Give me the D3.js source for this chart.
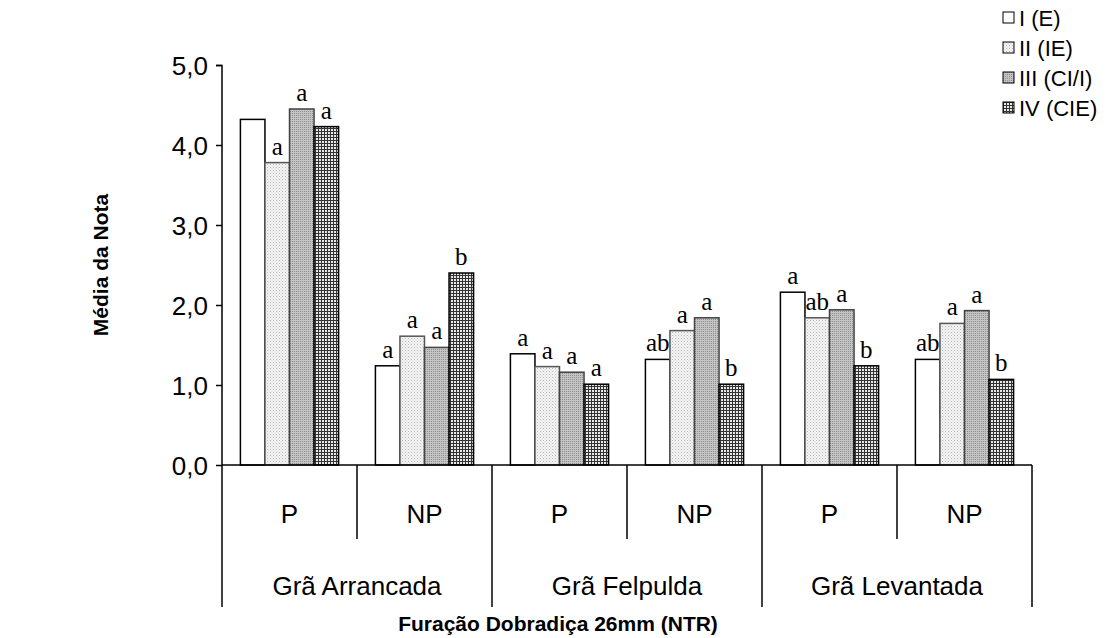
<!DOCTYPE html>
<html>
<head>
<meta charset="utf-8">
<script src="https://cdn.jsdelivr.net/npm/d3@7"></script>
<style>
  body { margin: 0; background: #fff; }
  text { font-family: Arial, "Liberation Sans", sans-serif; }
</style>
</head>
<body>
<div id="chart"></div>
<script>
var margin = { left: 222, right: 84, top: 65, bottom: 173 }
var width = 1116 - margin.left - margin.right
var height = 638 - margin.top - margin.bottom

// data
const groups = ["Grã Arrancada", "Grã Felpulda", "Grã Levantada"];
const subGroups = ["P", "NP"];
const series = ["I (E)", "II (IE)", "III (CI/I)", "IV (CIE)"];
const serieI = [4.32, 1.24, 1.39, 1.32, 2.16, 1.32];
const serieII = [3.78, 1.61, 1.23, 1.68, 1.84, 1.77];
const serieIII = [4.45, 1.47, 1.16, 1.84, 1.94, 1.93];
const serieIV = [4.23, 2.40, 1.01, 1.01, 1.24, 1.07];
const letters = [
    ["", "a", "a", "a"],
    ["a", "a", "a", "b"],
    ["a", "a", "a", "a"],
    ["ab", "a", "a", "b"],
    ["a", "ab", "a", "b"],
    ["ab", "a", "a", "b"]
];
const yTicks = [0, 1, 2, 3, 4, 5];

var allSeries = [serieI, serieII, serieIII, serieIV];
var cats = [];
groups.forEach(g => subGroups.forEach(s => cats.push(g + "|" + s)));
var data = cats.map((c, i) => ({
    category: c,
    values: series.map((s, j) => ({ series: s, value: allSeries[j][i], letter: letters[i][j] }))
}));

var svg = d3.select("#chart")
    .append("svg")
    .attr("width", 1116)
    .attr("height", 638);

// fill patterns
var defs = svg.append("defs");
var p2 = defs.append("pattern").attr("id", "pat2").attr("patternUnits", "userSpaceOnUse")
    .attr("width", 3).attr("height", 3);
p2.append("rect").attr("width", 3).attr("height", 3).attr("fill", "#f4f4f4");
p2.append("rect").attr("width", 1).attr("height", 1).attr("fill", "#b8b8b8");
p2.append("rect").attr("x", 1.5).attr("y", 1.5).attr("width", 1).attr("height", 1).attr("fill", "#cfcfcf");

var p3 = defs.append("pattern").attr("id", "pat3").attr("patternUnits", "userSpaceOnUse")
    .attr("width", 2).attr("height", 2);
p3.append("rect").attr("width", 2).attr("height", 2).attr("fill", "#c4c4c4");
p3.append("rect").attr("width", 1).attr("height", 1).attr("fill", "#8e8e8e");

var p4 = defs.append("pattern").attr("id", "pat4").attr("patternUnits", "userSpaceOnUse")
    .attr("width", 3).attr("height", 3);
p4.append("rect").attr("width", 3).attr("height", 3).attr("fill", "#e8e8e8");
p4.append("rect").attr("width", 3).attr("height", 1).attr("fill", "#333");
p4.append("rect").attr("width", 1).attr("height", 3).attr("fill", "#333");

const fills = ["#fff", "url(#pat2)", "url(#pat3)", "url(#pat4)"];
const strokes = ["#000", "#555", "#444", "#000"];

var g = svg.append("g")
    .attr("transform", "translate(" + margin.left + ", " + margin.top + ")");

var x0 = d3.scaleBand()
    .domain(cats)
    .range([0, width]);

var x1 = d3.scaleBand()
    .domain(series)
    .range([0, x0.bandwidth()])
    .paddingOuter(0.75)
    .paddingInner(0);

var y = d3.scaleLinear()
    .domain([0, 5])
    .range([height, 0]);

var color = d3.scaleOrdinal().domain(series).range(fills);
var stroke = d3.scaleOrdinal().domain(series).range(strokes);

// Y axis
var yAxisCall = d3.axisLeft(y)
    .tickValues(yTicks)
    .tickSize(6)
    .tickFormat(d => d3.format(".1f")(d).replace(".", ","));
var yAx = g.append("g")
    .attr("class", "y-axis")
    .call(yAxisCall);
yAx.select(".domain").attr("stroke", "#000").attr("stroke-width", 1.5).attr("d", "M-6,0.5H0V" + height);
yAx.selectAll(".tick line").attr("stroke-width", 1.5);
yAx.selectAll("text").attr("font-size", "26px").attr("fill", "#000").attr("x", -14).attr("dy", "0.36em");

// bars
var slice = g.selectAll(".slice")
    .data(data)
    .enter().append("g")
    .attr("class", "slice")
    .attr("transform", d => "translate(" + x0(d.category) + ",0)");

slice.selectAll("rect")
    .data(d => d.values)
    .enter().append("rect")
    .attr("x", d => x1(d.series))
    .attr("width", x1.bandwidth())
    .attr("y", d => y(d.value))
    .attr("height", d => height - y(d.value))
    .attr("fill", d => color(d.series))
    .attr("stroke", d => stroke(d.series))
    .attr("stroke-width", 1.5);

slice.selectAll(".letter")
    .data(d => d.values)
    .enter().append("text")
    .attr("class", "letter")
    .attr("x", d => x1(d.series) + x1.bandwidth() / 2)
    .attr("y", d => y(d.value) - 8)
    .attr("text-anchor", "middle")
    .style("font-family", "'Liberation Serif', 'Times New Roman', serif")
    .attr("font-size", "25px")
    .text(d => d.letter);

// category axis (baseline + dividers)
var cat = g.append("g").attr("class", "x-axis");
cat.append("line")
    .attr("x1", 0).attr("x2", width)
    .attr("y1", height).attr("y2", height)
    .attr("stroke", "#000").attr("stroke-width", 1.5);

cats.forEach((c, i) => {
    var xl = x0(c);
    var major = i % 2 === 0;
    cat.append("line")
        .attr("x1", xl).attr("x2", xl)
        .attr("y1", height).attr("y2", height + (major ? 142 : 74))
        .attr("stroke", "#000").attr("stroke-width", 1.5);
    cat.append("text")
        .attr("x", xl + x0.bandwidth() / 2)
        .attr("y", height + 58)
        .attr("text-anchor", "middle")
        .attr("font-size", "26px")
        .text(c.split("|")[1]);
});
cat.append("line")
    .attr("x1", width).attr("x2", width)
    .attr("y1", height).attr("y2", height + 142)
    .attr("stroke", "#000").attr("stroke-width", 1.5);

groups.forEach(gr => {
    var xa = x0(gr + "|P"), xb = x0(gr + "|NP") + x0.bandwidth();
    cat.append("text")
        .attr("x", (xa + xb) / 2)
        .attr("y", height + 130)
        .attr("text-anchor", "middle")
        .attr("font-size", "26px")
        .text(gr);
});

// axis titles
svg.append("text")
    .attr("x", -265)
    .attr("y", 108)
    .attr("transform", "rotate(-90)")
    .attr("text-anchor", "middle")
    .attr("font-size", "21px")
    .attr("font-weight", "bold")
    .text("Média da Nota");

svg.append("text")
    .attr("x", 558)
    .attr("y", 631)
    .attr("text-anchor", "middle")
    .attr("font-size", "21px")
    .attr("font-weight", "bold")
    .text("Furação Dobradiça 26mm (NTR)");

// legend
var legend = svg.selectAll(".legend")
    .data(series)
    .enter().append("g")
    .attr("class", "legend")
    .attr("transform", (d, i) => "translate(1003," + (12 + i * 30) + ")");

legend.append("rect")
    .attr("width", 11)
    .attr("height", 11)
    .attr("fill", d => color(d))
    .attr("stroke", "#000")
    .attr("stroke-width", 1);

legend.append("text")
    .attr("x", 16)
    .attr("y", 6)
    .attr("dy", "0.36em")
    .attr("font-size", "22px")
    .text(d => d);
</script>
</body>
</html>
